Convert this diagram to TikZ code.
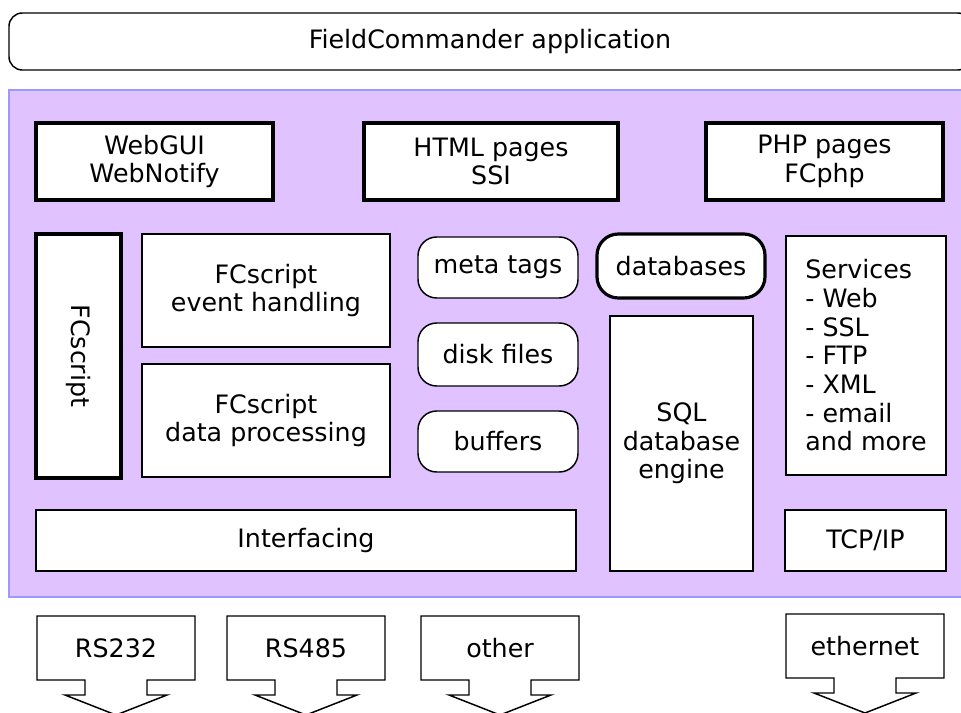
\documentclass[tikz,border=0pt]{standalone}
\usepackage{fontspec}
\setmainfont{DejaVu Sans}
\definecolor{fcpurple}{RGB}{223,194,255}
\definecolor{fcborder}{RGB}{153,153,255}
\tikzset{
  every node/.style={font=\fontsize{19pt}{21.5pt}\selectfont, align=center},
  % box given by its corners x1,y1,x2,y2 (pixels)
  corners/.style n args={4}{at={({(#1+#3)/2},{(#2+#4)/2})}, minimum width={(#3-#1)*0.75pt}, minimum height={(#4-#2)*0.75pt}},
  plainbox/.style={draw, fill=white, line width=1.1pt, inner sep=0pt},
  thickbox/.style={plainbox, line width=2.4pt},
  roundbox/.style={plainbox, rounded corners=14pt},
  dbbox/.style={thickbox, rounded corners=16pt},
}
\begin{document}
\begin{tikzpicture}[x=0.75pt, y=-0.75pt]
    \useasboundingbox (0,0) rectangle (961,713);
    % application bar on top
    \node[plainbox, rounded corners=10pt, corners={9}{13}{971}{70}] (app) {FieldCommander application};
    % the FieldCommander core
    \draw[fill=fcpurple, draw=fcborder, line width=2pt] (9,90) rectangle (980,597);
    \node[thickbox, corners={36}{123}{273}{200}] (webgui) {WebGUI\\WebNotify};
    \node[thickbox, corners={364}{123}{618}{200}] (html) {HTML pages\\SSI};
    \node[thickbox, corners={706}{123}{943}{200}] (php) {PHP pages\\FCphp};
    %
    \node[thickbox, corners={36}{234}{121}{478}, label={[rotate=-90]center:FCscript}] (fcscript) {};
    \node[plainbox, corners={142}{234}{390}{347}] (event) {FCscript\\event handling};
    \node[plainbox, corners={142}{364}{390}{477}] (dataproc) {FCscript\\data processing};
    \node[roundbox, corners={418}{237}{578}{298}] (meta) {meta tags};
    \node[roundbox, corners={418}{323}{578}{386}] (disk) {disk files};
    \node[roundbox, corners={418}{411}{578}{472}] (buffers) {buffers};
    \node[dbbox, corners={597}{234}{765}{298}] (databases) {databases};
    \node[plainbox, corners={610}{316}{753}{571}] (sql) {SQL\\database\\engine};
    \node[plainbox, corners={786}{236}{946}{475}, align=left] (services) {Services\\- Web\\- SSL\\- FTP\\- XML\\- email\\and more};
    \node[plainbox, corners={36}{510}{576}{571}] (interfacing) {Interfacing};
    \node[plainbox, corners={785}{510}{946}{571}] (tcpip) {TCP/IP};
    % physical links below
    \foreach \cx/\ty/\name/\txt in {116/616/rs232/RS232, 306/616/rs485/RS485, 500/616/other/other, 865/614/eth/ethernet}
        {
        \draw[line width=1.1pt, fill=white] (\cx-79,\ty) -- (\cx+79,\ty) -- (\cx+79,\ty+64) -- (\cx+31,\ty+64) -- (\cx+31,\ty+79) -- (\cx+51,\ty+79) -- (\cx,\ty+99) -- (\cx-51,\ty+79) -- (\cx-31,\ty+79) -- (\cx-31,\ty+64) -- (\cx-79,\ty+64) -- cycle;
        \node (\name) at (\cx,\ty+32) {\txt};
        }
\end{tikzpicture}
\end{document}
